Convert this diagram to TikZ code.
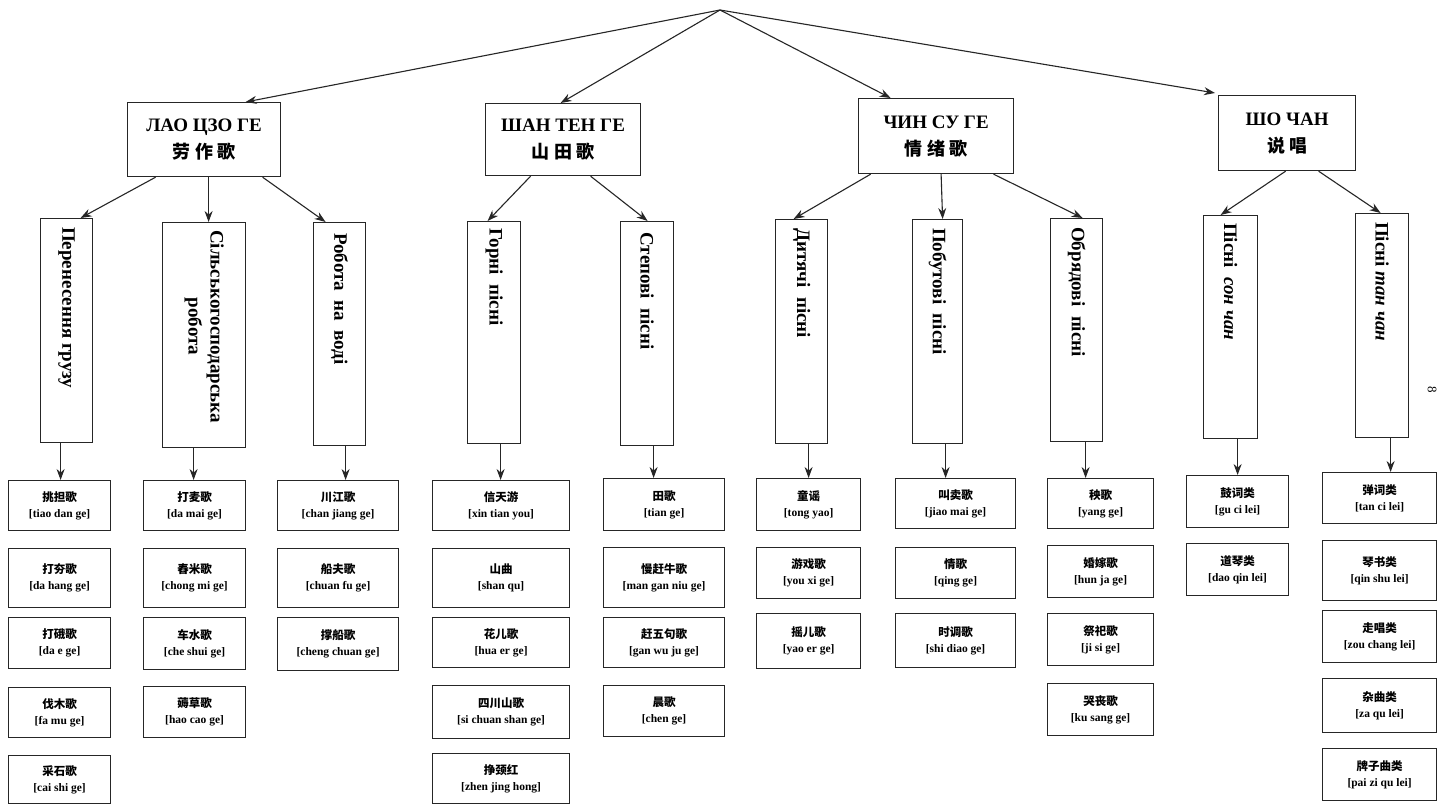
\documentclass[tikz,border=0pt]{standalone}
\usepackage{fontspec}
\setmainfont{Liberation Serif}
\newfontfamily\cjk{Noto Sans CJK SC}
\usetikzlibrary{arrows.meta,calc}
\newcommand\leafnode[7]{\node[leaf, minimum width=#4pt, minimum height=#5pt] (#1) at (#2,#3) {{\cjk\bfseries\fontsize{11.5}{14}\selectfont #6}\\[2pt][#7]};}
\begin{document}
\begin{tikzpicture}[x=1pt,y=-1pt,
 arr/.style={-{Stealth[length=11pt,width=8pt]}, line width=1.1pt, draw=black!85},
 catbox/.style={draw=black!85, line width=1.2pt, anchor=north west, inner sep=0pt, align=center, font=\fontsize{19}{27}\selectfont\bfseries},
 vbox/.style={draw=black!85, line width=1.2pt, anchor=north west, inner sep=0pt},
 vtext/.style={rotate=-90, anchor=west, align=center, inner sep=0pt, font=\fontsize{19}{22}\selectfont\bfseries},
 leaf/.style={draw=black!85, line width=1.2pt, anchor=north west, inner sep=0pt, align=center, font=\fontsize{11.5}{14}\selectfont\bfseries}]
\useasboundingbox (0,0) rectangle (1439,805);
\fill[white] (0,0) rectangle (1439,805);

\coordinate (root) at (720,10);

% category boxes
\node[catbox, minimum width=153pt, minimum height=74pt] (lao) at (127,102) {ЛАО ЦЗО ГЕ\\{\cjk\fontsize{18}{22}\selectfont 劳\ 作\ 歌}};
\node[catbox, minimum width=155pt, minimum height=72pt] (shan) at (485,103) {ШАН ТЕН ГЕ\\{\cjk\fontsize{18}{22}\selectfont 山\ 田\ 歌}};
\node[catbox, minimum width=155pt, minimum height=75pt] (chin) at (858,98) {ЧИН СУ ГЕ\\{\cjk\fontsize{18}{22}\selectfont 情\ 绪\ 歌}};
\node[catbox, minimum width=137pt, minimum height=75pt] (sho) at (1218,95) {ШО ЧАН\\{\cjk\fontsize{18}{22}\selectfont 说\ 唱}};

\draw[arr] (root) -- ([xshift=41.5pt]lao.north);
\draw[arr] (root) -- ([xshift=-2.5pt]shan.north);
\draw[arr] (root) -- ([xshift=-45.5pt]chin.north);
\draw[arr] (root) -- ([shift={(-3pt,2pt)}]sho.north west);

% vertical boxes
\node[vbox, minimum width=52pt, minimum height=224pt] (p1) at (40,218) {};
\node[vbox, minimum width=83pt, minimum height=225pt] (p2) at (162,222) {};
\node[vbox, minimum width=52pt, minimum height=223pt] (p3) at (313,222) {};
\node[vbox, minimum width=53pt, minimum height=222pt] (p4) at (467,221) {};
\node[vbox, minimum width=53pt, minimum height=224pt] (p5) at (620,221) {};
\node[vbox, minimum width=52pt, minimum height=224pt] (p6) at (775,219) {};
\node[vbox, minimum width=50pt, minimum height=224pt] (p7) at (912,219) {};
\node[vbox, minimum width=52pt, minimum height=223pt] (p8) at (1050,218) {};
\node[vbox, minimum width=54pt, minimum height=223pt] (p9) at (1203,215) {};
\node[vbox, minimum width=53pt, minimum height=224pt] (p10) at (1355,213) {};

\node[vtext] (t1) at ([yshift=-9pt]p1.north) {Перенесення грузу};
\node[vtext] (t2) at ([yshift=-8pt]p2.north) {Сільськогосподарська\\робота};
\node[vtext] (t3) at ([yshift=-11pt]p3.north) {Робота\ \ на\ \ воді};
\node[vtext] (t4) at ([yshift=-7pt]p4.north) {Горні\ \ пісні};
\node[vtext] (t5) at ([yshift=-11pt]p5.north) {Степові\ \ пісні};
\node[vtext] (t6) at ([yshift=-9pt]p6.north) {Дитячі\ \ пісні};
\node[vtext] (t7) at ([yshift=-9pt]p7.north) {Побутові\ \ пісні};
\node[vtext] (t8) at ([yshift=-9pt]p8.north) {Обрядові\ \ пісні};
\node[vtext] (t9) at ([yshift=-8pt]p9.north) {Пісні\ \ \textit{сон чан}};
\node[vtext] (t10) at ([yshift=-9pt]p10.north) {Пісні \textit{тан чан}};

% category -> vertical
\draw[arr] ([xshift=-48.5pt]lao.south) -- ([xshift=14pt]p1.north);
\draw[arr] ([xshift=4.5pt]lao.south) -- ([xshift=4.5pt]p2.north);
\draw[arr] ([xshift=58.5pt]lao.south) -- ([xshift=-14pt]p3.north);
\draw[arr] ([xshift=-32.5pt]shan.south) -- ([xshift=-6.5pt]p4.north);
\draw[arr] ([xshift=27.5pt]shan.south) -- ([xshift=0.5pt]p5.north);
\draw[arr] ([xshift=-65.5pt]chin.south) -- ([xshift=-8pt]p6.north);
\draw[arr] ([xshift=5pt]chin.south) -- ([xshift=5pt]p7.north);
\draw[arr] ([xshift=57.5pt]chin.south) -- ([xshift=6pt]p8.north);
\draw[arr] ([xshift=-1.5pt]sho.south) -- ([xshift=-10pt]p9.north);
\draw[arr] ([xshift=31.5pt]sho.south) -- ([xshift=-1.5pt]p10.north);

% leaves col1
\leafnode{a1}{8}{480}{102}{50}{挑担歌}{tiao dan ge}
\leafnode{a2}{8}{548}{102}{59}{打夯歌}{da hang ge}
\leafnode{a3}{8}{617}{102}{51}{打硪歌}{da e ge}
\leafnode{a4}{8}{687}{102}{50}{伐木歌}{fa mu ge}
\leafnode{a5}{8}{755}{102}{48}{采石歌}{cai shi ge}
% col2
\leafnode{b1}{143}{480}{102}{50}{打麦歌}{da mai ge}
\leafnode{b2}{143}{548}{102}{59}{舂米歌}{chong mi ge}
\leafnode{b3}{143}{617}{102}{52}{车水歌}{che shui ge}
\leafnode{b4}{143}{686}{102}{51}{薅草歌}{hao cao ge}
% col3
\leafnode{c1}{277}{480}{121}{50}{川江歌}{chan jiang ge}
\leafnode{c2}{277}{548}{121}{59}{船夫歌}{chuan fu ge}
\leafnode{c3}{277}{617}{121}{53}{撑船歌}{cheng chuan ge}
% col4
\leafnode{d1}{432}{480}{137}{50}{信天游}{xin tian you}
\leafnode{d2}{432}{548}{137}{59}{山曲}{shan qu}
\leafnode{d3}{432}{617}{137}{50}{花儿歌}{hua er ge}
\leafnode{d4}{432}{685}{137}{53}{四川山歌}{si chuan shan ge}
\leafnode{d5}{432}{753}{137}{50}{挣颈红}{zhen jing hong}
% col5
\leafnode{e1}{603}{478}{121}{52}{田歌}{tian ge}
\leafnode{e2}{603}{547}{121}{60}{慢赶牛歌}{man gan niu ge}
\leafnode{e3}{603}{617}{121}{50}{赶五句歌}{gan wu ju ge}
\leafnode{e4}{603}{685}{121}{51}{晨歌}{chen ge}
% col6
\leafnode{f1}{756}{478}{104}{52}{童谣}{tong yao}
\leafnode{f2}{756}{547}{104}{51}{游戏歌}{you xi ge}
\leafnode{f3}{756}{613}{104}{55}{摇儿歌}{yao er ge}
% col7
\leafnode{g1}{895}{478}{120}{50}{叫卖歌}{jiao mai ge}
\leafnode{g2}{895}{547}{120}{51}{情歌}{qing ge}
\leafnode{g3}{895}{613}{120}{54}{时调歌}{shi diao ge}
% col8
\leafnode{h1}{1047}{478}{106}{50}{秧歌}{yang ge}
\leafnode{h2}{1047}{545}{106}{52}{婚嫁歌}{hun ja ge}
\leafnode{h3}{1047}{613}{106}{52}{祭祀歌}{ji si ge}
\leafnode{h4}{1047}{683}{106}{52}{哭丧歌}{ku sang ge}
% col9
\leafnode{i1}{1186}{475}{102}{52}{鼓词类}{gu ci lei}
\leafnode{i2}{1186}{543}{102}{52}{道琴类}{dao qin lei}
% col10
\leafnode{j1}{1322}{472}{114}{51}{弹词类}{tan ci lei}
\leafnode{j2}{1322}{540}{114}{60}{琴书类}{qin shu lei}
\leafnode{j3}{1322}{610}{114}{52}{走唱类}{zou chang lei}
\leafnode{j4}{1322}{678}{114}{54}{杂曲类}{za qu lei}
\leafnode{j5}{1322}{748}{114}{52}{牌子曲类}{pai zi qu lei}

% vertical -> first leaf
\draw[arr] ([xshift=-6pt]p1.south) -- ([xshift=-6pt]p1.south |- a1.north);
\draw[arr] ([xshift=-10.5pt]p2.south) -- ([xshift=-10.5pt]p2.south |- b1.north);
\draw[arr] ([xshift=6pt]p3.south) -- ([xshift=6pt]p3.south |- c1.north);
\draw[arr] ([xshift=6.5pt]p4.south) -- ([xshift=6.5pt]p4.south |- d1.north);
\draw[arr] ([xshift=6.5pt]p5.south) -- ([xshift=6.5pt]p5.south |- e1.north);
\draw[arr] ([xshift=7pt]p6.south) -- ([xshift=7pt]p6.south |- f1.north);
\draw[arr] ([xshift=8pt]p7.south) -- ([xshift=8pt]p7.south |- g1.north);
\draw[arr] ([xshift=9pt]p8.south) -- ([xshift=9pt]p8.south |- h1.north);
\draw[arr] ([xshift=7pt]p9.south) -- ([xshift=7pt]p9.south |- i1.north);
\draw[arr] ([xshift=8.5pt]p10.south) -- ([xshift=8.5pt]p10.south |- j1.north);

\node[rotate=-90, font=\fontsize{13}{13}\selectfont] (pg) at (1432,390) {8};
\end{tikzpicture}
\end{document}
